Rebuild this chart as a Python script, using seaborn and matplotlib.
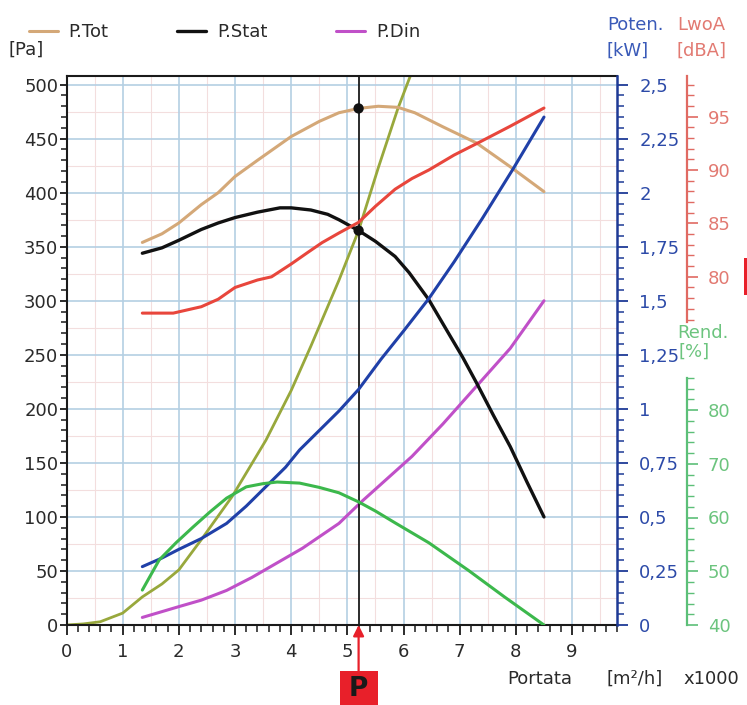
import matplotlib
matplotlib.use("Agg")
import matplotlib.pyplot as plt
import numpy as np
import pandas as pd
import seaborn as sns
from matplotlib.ticker import MultipleLocator, FixedLocator, FuncFormatter
from matplotlib.patches import Rectangle
from matplotlib.transforms import blended_transform_factory

# ---------------- data ----------------
q_tot = [1.35, 1.7, 2.0, 2.4, 2.7, 3.0, 3.4, 4.0, 4.5, 4.85, 5.2, 5.55, 5.9, 6.2, 6.7, 7.3, 7.9, 8.5]
p_tot = [354, 362, 372, 389, 400, 415, 430, 452, 466, 474, 478, 480, 479, 474, 461, 446, 424, 401]

q_stat = [1.35, 1.7, 2.0, 2.4, 2.7, 3.0, 3.4, 3.8, 4.0, 4.35, 4.65, 4.85, 5.2, 5.5, 5.85,
          6.1, 6.45, 6.8, 7.05, 7.3, 7.6, 7.9, 8.2, 8.5]
p_stat = [344, 349, 356, 366, 372, 377, 382, 386, 386, 384, 380, 375, 365, 355, 341,
          326, 301, 270, 248, 224, 194, 165, 132, 100]

q_din = [1.35, 2.0, 2.4, 2.85, 3.3, 3.7, 4.2, 4.85, 5.25, 5.7, 6.15, 6.7, 7.3, 7.9, 8.5]
p_din = [7, 17, 23, 32, 44, 56, 71, 94, 114, 135, 156, 186, 221, 256, 300]

q_olive = [0.0, 0.3, 0.6, 1.0, 1.35, 1.7, 2.0, 2.4, 2.95, 3.55, 4.0, 4.35, 4.85, 5.2, 5.55, 5.9, 6.15, 6.3]
p_olive = [0, 1, 3, 11, 26, 38, 51, 79, 119, 171, 217, 258, 319, 365, 423, 478, 512, 535]

q_pow = [1.35, 1.7, 2.0, 2.4, 2.85, 3.2, 3.55, 3.9, 4.15, 4.5, 4.85, 5.2, 5.6, 6.0, 6.45,
         6.9, 7.4, 7.95, 8.5]
kw_pow = [0.27, 0.31, 0.35, 0.40, 0.47, 0.55, 0.64, 0.73, 0.81, 0.90, 0.99, 1.09, 1.23, 1.36, 1.51,
          1.68, 1.88, 2.11, 2.35]

q_lw = [1.35, 1.9, 2.4, 2.7, 3.0, 3.4, 3.65, 4.0, 4.3, 4.55, 4.85, 5.2, 5.5, 5.85, 6.15, 6.45,
        6.9, 7.35, 7.9, 8.5]
db_lw = [76.6, 76.6, 77.2, 77.9, 79.0, 79.7, 80.0, 81.2, 82.3, 83.2, 84.1, 85.1, 86.6, 88.2, 89.2, 90.0,
         91.4, 92.6, 94.1, 95.8]

q_rend = [1.35, 1.65, 1.95, 2.25, 2.55, 2.85, 3.2, 3.5, 3.75, 4.15, 4.5, 4.85, 5.2, 5.5, 5.85,
          6.45, 7.15, 7.8, 8.5]
pct_rend = [46.5, 52.1, 55.3, 58.2, 61.0, 63.6, 65.7, 66.3, 66.6, 66.4, 65.6, 64.6, 62.9, 61.2, 59.0,
            55.3, 50.2, 45.2, 40.0]

q_point = 5.2
p_point_tot = 478
p_point_stat = 365

x_ticks = list(range(0, 10))
pa_ticks = list(range(0, 501, 50))
kw_ticks = [0, 0.25, 0.5, 0.75, 1, 1.25, 1.5, 1.75, 2, 2.25, 2.5]
db_ticks = [80, 85, 90, 95]
rend_ticks = [40, 50, 60, 70, 80]

# ---------------- style ----------------
sns.set_style("ticks")
plt.rcParams['font.family'] = ['DejaVu Sans']
FS = 13

c_tot = '#d4a878'
c_stat = '#111111'
c_din = '#c050c8'
c_olive = '#98a83c'
c_blue = '#2040a8'
c_red = '#e8463c'
c_green = '#3cb84c'
c_txt = '#2a2a2a'

W, H = 747, 705
fig = plt.figure(figsize=(W / 100, H / 100), dpi=100)
L, R, T, B = 66.5, 617, 76, 625
ax = fig.add_axes([L / W, 1 - B / H, (R - L) / W, (B - T) / H])

XMAX = 9.8
PAMAX = 508
ax.set_xlim(0, XMAX)
ax.set_ylim(0, PAMAX)

# grid
ax.set_xticks(x_ticks)
ax.set_yticks(pa_ticks)
ax.xaxis.set_minor_locator(MultipleLocator(0.2))
ax.yaxis.set_minor_locator(MultipleLocator(10))
ax.set_axisbelow(True)
ax.grid(True, which='major', color='#b4cfe3', lw=1.2)
for xv in np.arange(0.5, 9.6, 1.0):
    ax.axvline(xv, color='#f3dede', lw=0.8, zorder=0)
for yv in np.arange(25, 501, 50):
    ax.axhline(yv, color='#f3dede', lw=0.8, zorder=0)

# main curves (Pa)
df_tot = pd.DataFrame({'q': q_tot, 'p': p_tot})
df_stat = pd.DataFrame({'q': q_stat, 'p': p_stat})
df_din = pd.DataFrame({'q': q_din, 'p': p_din})
df_olive = pd.DataFrame({'q': q_olive, 'p': p_olive})

sns.lineplot(data=df_olive, x='q', y='p', ax=ax, color=c_olive, lw=2.0, sort=False, estimator=None)
sns.lineplot(data=df_din, x='q', y='p', ax=ax, color=c_din, lw=2.2, sort=False, estimator=None, label='P.Din')
sns.lineplot(data=df_tot, x='q', y='p', ax=ax, color=c_tot, lw=2.2, sort=False, estimator=None, label='P.Tot')
sns.lineplot(data=df_stat, x='q', y='p', ax=ax, color=c_stat, lw=2.4, sort=False, estimator=None, label='P.Stat')

ax.axvline(q_point, color='#1a1a1a', lw=1.3, zorder=3)
sns.scatterplot(x=[q_point, q_point], y=[p_point_tot, p_point_stat], ax=ax, color='#111111',
                s=55, edgecolor='none', zorder=6, legend=False)

handles_map = {ln.get_label(): ln for ln in ax.get_lines()}
leg_handles = [handles_map['P.Tot'], handles_map['P.Stat'], handles_map['P.Din']]
if ax.get_legend() is not None:
    ax.get_legend().remove()

ax.set_xlabel('')
ax.set_ylabel('')
ax.spines['right'].set_visible(False)
for s in ['left', 'bottom', 'top']:
    ax.spines[s].set_color('#1a1a1a')
    ax.spines[s].set_linewidth(1.5)
ax.tick_params(axis='y', which='major', direction='out', length=5, width=1.3, pad=1,
               labelsize=FS, colors='#1a1a1a', labelcolor=c_txt)
ax.tick_params(axis='y', which='minor', direction='out', length=4, width=1.1, colors='#1a1a1a')
ax.tick_params(axis='x', which='major', direction='out', length=7, width=1.3, pad=6,
               labelsize=FS, colors='#1a1a1a', labelcolor=c_txt)
ax.tick_params(axis='x', which='minor', direction='out', length=5, width=1.1, colors='#1a1a1a')

# blue power axis
ax_b = ax.twinx()
ax_b.set_ylim(0, 2.5 * PAMAX / 500)
sns.lineplot(data=pd.DataFrame({'q': q_pow, 'kw': kw_pow}), x='q', y='kw', ax=ax_b,
             color=c_blue, lw=2.2, sort=False, estimator=None)
ax_b.set_xlim(0, XMAX)
ax_b.set_ylabel('')
ax_b.set_yticks(kw_ticks)
ax_b.yaxis.set_minor_locator(MultipleLocator(0.05))
ax_b.yaxis.set_major_formatter(FuncFormatter(lambda v, p: ('%g' % v).replace('.', ',')))
for s in ['left', 'top', 'bottom']:
    ax_b.spines[s].set_visible(False)
ax_b.spines['right'].set_color('#1e3a96')
ax_b.spines['right'].set_linewidth(1.8)
ax_b.tick_params(axis='y', which='major', direction='out', length=8, width=1.3, pad=8,
                 labelsize=FS, colors='#1e3a96', labelcolor='#2c4aa8')
ax_b.tick_params(axis='y', which='minor', direction='out', length=5, width=1.1, colors='#1e3a96')

# red LwoA axis
DB_LO, DB_HI = 47.4, 98.8
ax_r = ax.twinx()
ax_r.set_ylim(DB_LO, DB_HI)
sns.lineplot(data=pd.DataFrame({'q': q_lw, 'db': db_lw}), x='q', y='db', ax=ax_r,
             color=c_red, lw=2.2, sort=False, estimator=None)
ax_r.set_xlim(0, XMAX)
ax_r.set_ylabel('')
spine_x = (687 - L) / (R - L)
ax_r.spines['right'].set_position(('axes', spine_x))
ax_r.spines['right'].set_bounds(75.8, DB_HI)
ax_r.spines['right'].set_color('#e06a62')
ax_r.spines['right'].set_linewidth(1.6)
for s in ['left', 'top', 'bottom']:
    ax_r.spines[s].set_visible(False)
ax_r.yaxis.set_major_locator(FixedLocator(db_ticks))
ax_r.yaxis.set_minor_locator(FixedLocator(list(range(76, 99))))
ax_r.tick_params(axis='y', which='major', direction='out', length=8, width=1.2, pad=7,
                 labelsize=FS, colors='#e06a62', labelcolor='#e27a72')
ax_r.tick_params(axis='y', which='minor', direction='out', length=5, width=1.0, colors='#e06a62')

# green efficiency axis
RD_LO = 40
RD_HI = 40 + (B - T) / 5.375
ax_g = ax.twinx()
ax_g.set_ylim(RD_LO, RD_HI)
sns.lineplot(data=pd.DataFrame({'q': q_rend, 'r': pct_rend}), x='q', y='r', ax=ax_g,
             color=c_green, lw=2.2, sort=False, estimator=None)
ax_g.set_xlim(0, XMAX)
ax_g.set_ylabel('')
ax_g.spines['right'].set_position(('axes', spine_x))
ax_g.spines['right'].set_bounds(40, 86)
ax_g.spines['right'].set_color('#5cbf78')
ax_g.spines['right'].set_linewidth(1.6)
for s in ['left', 'top', 'bottom']:
    ax_g.spines[s].set_visible(False)
ax_g.yaxis.set_major_locator(FixedLocator(rend_ticks))
ax_g.yaxis.set_minor_locator(FixedLocator(list(range(40, 87, 2))))
ax_g.tick_params(axis='y', which='major', direction='out', length=8, width=1.2, pad=7,
                 labelsize=FS, colors='#5cbf78', labelcolor='#6cc47e')
ax_g.tick_params(axis='y', which='minor', direction='out', length=5, width=1.0, colors='#5cbf78')

for a in (ax_b, ax_r, ax_g):
    if a.get_legend() is not None:
        a.get_legend().remove()


def fx(px):
    return px / W


def fy(py):
    return 1 - py / H


# legend
fig.legend(leg_handles, ['P.Tot', 'P.Stat', 'P.Din'], loc='upper left',
           bbox_to_anchor=(fx(20), fy(14)), ncol=3, frameon=False, fontsize=FS,
           handlelength=1.6, handletextpad=0.6, columnspacing=3.8, borderpad=0,
           labelcolor=c_txt)

# axis titles
fig.text(fx(8), fy(50), '[Pa]', fontsize=FS, color=c_txt, ha='left', va='center')
fig.text(fx(607), fy(25), 'Poten.', fontsize=FS, color='#3a5ab8', ha='left', va='center')
fig.text(fx(607), fy(51), '[kW]', fontsize=FS, color='#3a5ab8', ha='left', va='center')
fig.text(fx(677), fy(25), 'LwoA', fontsize=FS, color='#e27a72', ha='left', va='center')
fig.text(fx(677), fy(51), '[dBA]', fontsize=FS, color='#e27a72', ha='left', va='center')
fig.text(fx(677), fy(333), 'Rend.', fontsize=FS, color='#6cc47e', ha='left', va='center')
fig.text(fx(679), fy(352), '[%]', fontsize=FS, color='#6cc47e', ha='left', va='center')
fig.text(fx(507), fy(679), 'Portata', fontsize=FS, color=c_txt, ha='left', va='center')
fig.text(fx(607), fy(679), '[m²/h]', fontsize=FS, color=c_txt, ha='left', va='center')
fig.text(fx(683), fy(679), 'x1000', fontsize=FS, color=c_txt, ha='left', va='center')

# operating point marker "P" (vertical arrow from the box up to the axis at q_point)
bt = blended_transform_factory(ax.transData, fig.transFigure)
ax.annotate('', xy=(q_point, 0), xycoords='data',
            xytext=(q_point, fy(671)), textcoords=('data', 'figure fraction'),
            arrowprops=dict(arrowstyle='-|>', color='#e8202a', lw=1.6, mutation_scale=16,
                            shrinkA=0, shrinkB=0),
            annotation_clip=False)
box_w = 38 / ((R - L) / XMAX)
fig.patches.append(Rectangle((q_point - box_w / 2, fy(705)), box_w, 34 / H, transform=bt,
                             facecolor='#e8202a', edgecolor='none'))
fig.text(q_point, fy(689), 'P', fontsize=19, fontweight='bold', color='#1a1a1a',
         ha='center', va='center', transform=bt)

# small red mark at right edge
fig.patches.append(Rectangle((fx(744), fy(295)), 3 / W, 37 / H, transform=fig.transFigure,
                             facecolor='#e8202a', edgecolor='none'))

fig.savefig('out.png', dpi=100)
